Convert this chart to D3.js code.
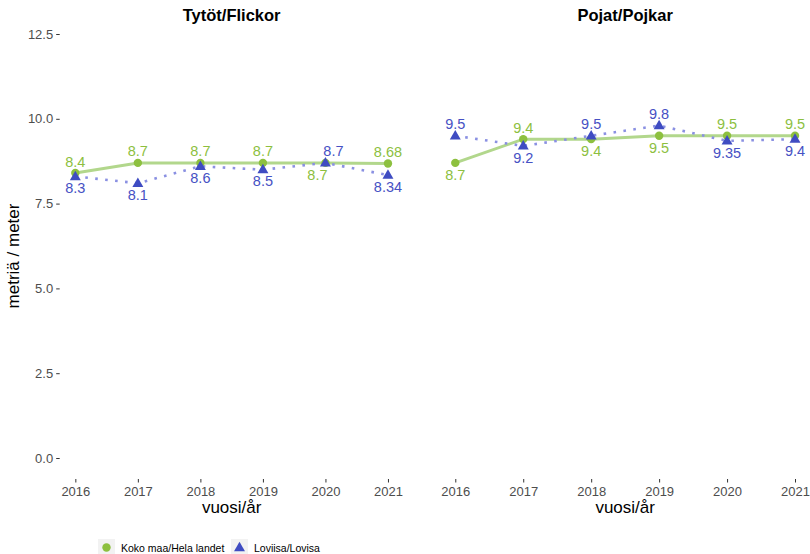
<!DOCTYPE html>
<html>
<head>
<meta charset="utf-8">
<script src="https://cdn.jsdelivr.net/npm/d3@7"></script>
<style>
  html, body { margin: 0; padding: 0; background: #fff; }
  svg { display: block; font-family: "Liberation Sans", Arial, Helvetica, sans-serif; }
</style>
</head>
<body>
<svg id="chart" width="810" height="554"></svg>
<script>
// ---- data ----
const years = [2016, 2017, 2018, 2019, 2020, 2021];
const panelTitles = ["Tytöt/Flickor", "Pojat/Pojkar"];
const seriesNames = ["Koko maa/Hela landet", "Loviisa/Lovisa"];
const girlsKoko    = [8.4, 8.7, 8.7, 8.7, 8.7, 8.68];
const girlsLoviisa = [8.3, 8.1, 8.6, 8.5, 8.7, 8.34];
const boysKoko     = [8.7, 9.4, 9.4, 9.5, 9.5, 9.5];
const boysLoviisa  = [9.5, 9.2, 9.5, 9.8, 9.35, 9.4];
const yTicks = [0, 2.5, 5, 7.5, 10, 12.5];
const yLabel = "metriä / meter";
const xLabel = "vuosi/år";

// ---- styles ----
const greenPt = "#8dc03f", greenLine = "#b2d78c", greenText = "#8dbf3f";
const bluePt = "#3f4cc2", blueLine = "#8a90e2", blueText = "#4651c4";

const svg = d3.select("#chart");
const y = d3.scaleLinear().domain([0, 12.5]).range([458, 34]);
const panelBottom = 479;

const panels = [
  { title: panelTitles[0], koko: girlsKoko, lov: girlsLoviisa, range: [59.7, 403.6], yAxis: true },
  { title: panelTitles[1], koko: boysKoko, lov: boysLoviisa, range: [438.3, 812], yAxis: false }
];

panels.forEach(p => {
  const x = d3.scaleLinear().domain([years[0] - 0.25, years[years.length - 1] + 0.25]).range(p.range);
  const g = svg.append("g");
  const cx = (p.range[0] + p.range[1]) / 2;

  // title
  g.append("text").attr("x", cx).attr("y", 21).attr("text-anchor", "middle")
    .attr("font-size", 16.5).attr("font-weight", "bold").attr("fill", "#000").text(p.title);

  // y axis
  if (p.yAxis) {
    const ya = g.append("g").attr("transform", `translate(${p.range[0]},0)`)
      .call(d3.axisLeft(y).tickValues(yTicks).tickFormat(d3.format(".1f")).tickSize(3.5).tickPadding(3));
    ya.select(".domain").remove();
    ya.selectAll(".tick line").attr("stroke", "#333").attr("stroke-width", 1);
    ya.selectAll(".tick text").attr("fill", "#4d4d4d").attr("font-size", 13)
      .attr("font-family", "Liberation Sans, Arial, sans-serif");
  }

  // x axis
  const xa = g.append("g").attr("transform", `translate(0,${panelBottom})`)
    .call(d3.axisBottom(x).tickValues(years).tickFormat(d3.format("d")).tickSize(3.5).tickPadding(4));
  xa.select(".domain").remove();
  xa.selectAll(".tick line").attr("stroke", "#333").attr("stroke-width", 1);
  xa.selectAll(".tick text").attr("fill", "#4d4d4d").attr("font-size", 13)
    .attr("font-family", "Liberation Sans, Arial, sans-serif");

  // x label
  g.append("text").attr("x", cx).attr("y", 513).attr("text-anchor", "middle")
    .attr("font-size", 17).attr("fill", "#000").text(xLabel);

  const kokoData = years.map((yr, i) => ({ yr, v: p.koko[i], other: p.lov[i], lov: false }));
  const lovData = years.map((yr, i) => ({ yr, v: p.lov[i], other: p.koko[i], lov: true }));

  const line = d3.line().x(d => x(d.yr)).y(d => y(d.v));
  g.append("path").datum(kokoData).attr("d", line).attr("fill", "none")
    .attr("stroke", greenLine).attr("stroke-width", 3);
  g.append("path").datum(lovData).attr("d", line).attr("fill", "none")
    .attr("stroke", blueLine).attr("stroke-width", 2.6).attr("stroke-dasharray", "2.6,7.4");

  g.selectAll("circle.k").data(kokoData).join("circle").attr("class", "k")
    .attr("cx", d => x(d.yr)).attr("cy", d => y(d.v)).attr("r", 4.2).attr("fill", greenPt);

  const tri = d3.symbol().type(d3.symbolTriangle).size(52);
  g.selectAll("path.l").data(lovData).join("path").attr("class", "l")
    .attr("d", tri).attr("transform", d => `translate(${x(d.yr)},${y(d.v) + 0.5})`).attr("fill", bluePt);

  // labels: higher value above, lower below (ties: Loviisa above)
  const all = kokoData.concat(lovData);
  g.selectAll("text.lab").data(all).join("text").attr("class", "lab")
    .each(function(d) {
      const above = d.v > d.other || (d.v === d.other && d.lov);
      const tie = d.v === d.other;
      d3.select(this)
        .attr("x", x(d.yr) + (tie ? (above ? 8 : -8) : 0))
        .attr("y", y(d.v) + (above ? -6.5 : 16.8));
    })
    .attr("text-anchor", "middle").attr("font-size", 14.5)
    .attr("fill", d => d.lov ? blueText : greenText)
    .text(d => String(d.v));
});

// y label
svg.append("text").attr("transform", "translate(19,256) rotate(-90)")
  .attr("text-anchor", "middle").attr("font-size", 17).attr("fill", "#000").text(yLabel);

// legend
const leg = svg.append("g");
const keys = [
  { name: seriesNames[0], x: 98, color: greenPt, shape: "circle" },
  { name: seriesNames[1], x: 231, color: bluePt, shape: "triangle" }
];
keys.forEach(k => {
  leg.append("rect").attr("x", k.x).attr("y", 539).attr("width", 17).attr("height", 17).attr("fill", "#f2f2f2");
  if (k.shape === "circle") {
    leg.append("circle").attr("cx", k.x + 8.5).attr("cy", 547.5).attr("r", 4.2).attr("fill", k.color);
  } else {
    leg.append("path").attr("d", d3.symbol().type(d3.symbolTriangle).size(52)())
      .attr("transform", `translate(${k.x + 8.5},548)`).attr("fill", k.color);
  }
  leg.append("text").attr("x", k.x + 23).attr("y", 551.5).attr("font-size", 10.5).attr("fill", "#000").text(k.name);
});
</script>
</body>
</html>
